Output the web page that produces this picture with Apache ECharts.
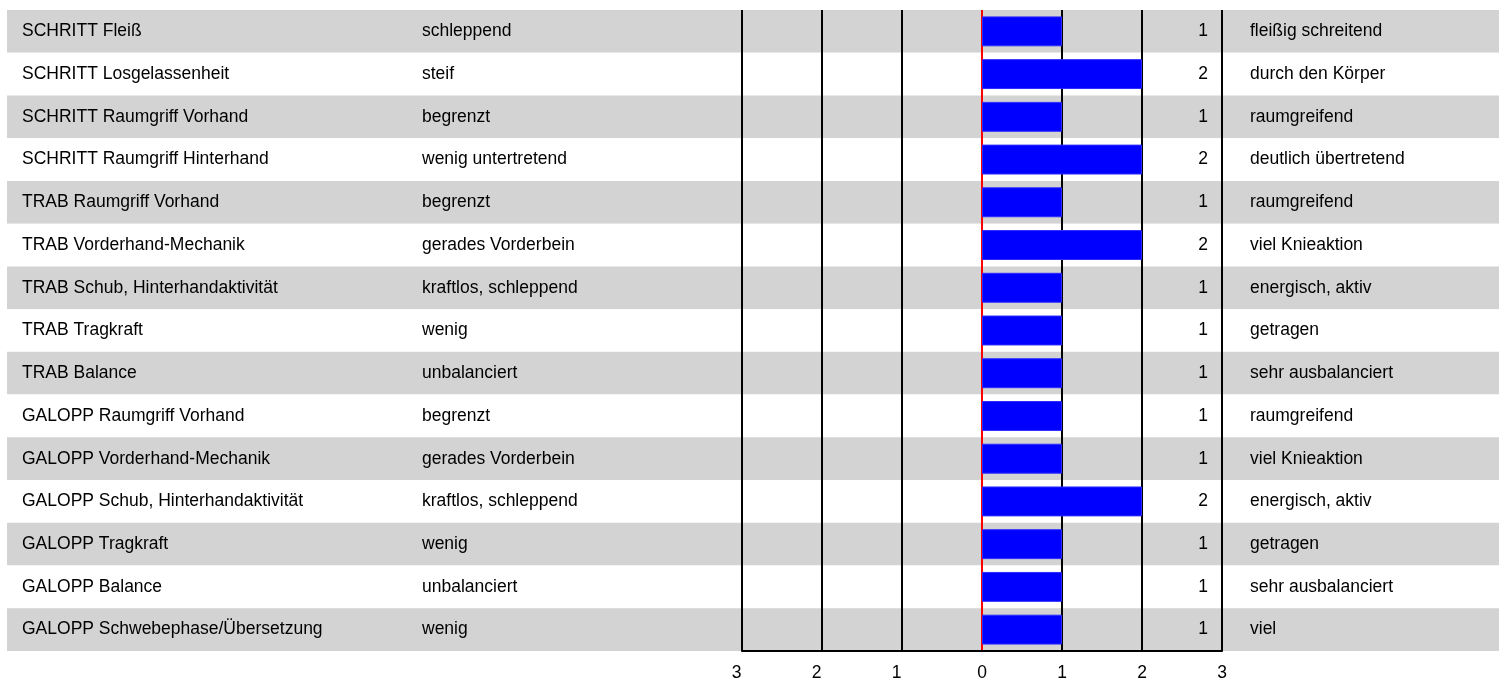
<!DOCTYPE html>
<html>
<head>
<meta charset="utf-8">
<script src="https://cdn.jsdelivr.net/npm/echarts@6/dist/echarts.min.js"></script>
<style>
  html, body { margin: 0; padding: 0; background: #fff; }
  #main { width: 1499px; height: 682px; }
</style>
</head>
<body>
<div id="main"></div>
<script>
// Zeilen der Bewertung
var labels = [
  'SCHRITT Fleiß',
  'SCHRITT Losgelassenheit',
  'SCHRITT Raumgriff Vorhand',
  'SCHRITT Raumgriff Hinterhand',
  'TRAB Raumgriff Vorhand',
  'TRAB Vorderhand-Mechanik',
  'TRAB Schub, Hinterhandaktivität',
  'TRAB Tragkraft',
  'TRAB Balance',
  'GALOPP Raumgriff Vorhand',
  'GALOPP Vorderhand-Mechanik',
  'GALOPP Schub, Hinterhandaktivität',
  'GALOPP Tragkraft',
  'GALOPP Balance',
  'GALOPP Schwebephase/Übersetzung'
];
var leftDesc = [
  'schleppend', 'steif', 'begrenzt', 'wenig untertretend', 'begrenzt',
  'gerades Vorderbein', 'kraftlos, schleppend', 'wenig', 'unbalanciert', 'begrenzt',
  'gerades Vorderbein', 'kraftlos, schleppend', 'wenig', 'unbalanciert', 'wenig'
];
var rightDesc = [
  'fleißig schreitend', 'durch den Körper', 'raumgreifend', 'deutlich übertretend', 'raumgreifend',
  'viel Knieaktion', 'energisch, aktiv', 'getragen', 'sehr ausbalanciert', 'raumgreifend',
  'viel Knieaktion', 'energisch, aktiv', 'getragen', 'sehr ausbalanciert', 'viel'
];
var values = [1, 2, 1, 2, 1, 2, 1, 1, 1, 1, 1, 2, 1, 1, 1];
var scaleMin = -3, scaleMax = 3;

var font = "'Liberation Sans', Arial, sans-serif";
var fs = 17.5;

var chart = echarts.init(document.getElementById('main'));

function textAxis(data, pos, offset, inside, margin) {
  return {
    type: 'category', gridIndex: 1, inverse: true, data: labels,
    position: pos, offset: offset,
    axisLine: { show: false }, axisTick: { show: false },
    splitLine: { show: false },
    axisLabel: {
      inside: inside, margin: margin, color: '#000',
      fontFamily: font, fontSize: fs,
      formatter: function (v, i) { return data[i]; }
    }
  };
}

var option = {
  backgroundColor: '#fff',
  animation: false,
  grid: [
    { left: 7, right: 0, top: 10, bottom: 31 },
    { left: 742, right: 277, top: 10, bottom: 31 }
  ],
  xAxis: [
    { gridIndex: 0, type: 'value', min: 0, max: 1, show: false },
    {
      gridIndex: 1, type: 'value', min: scaleMin, max: scaleMax, interval: 1,
      axisLine: { show: true, onZero: false, lineStyle: { color: '#000', width: 2 } },
      axisTick: { show: false },
      splitLine: {
        show: true,
        lineStyle: { color: ['#000', '#000', '#000', '#f00', '#000', '#000', '#000'], width: 2 }
      },
      axisLabel: {
        margin: 13, color: '#000', fontFamily: font, fontSize: fs,
        formatter: function (v) {
          return v < 0 ? '{n|' + Math.abs(v) + '}' : String(v);
        },
        rich: { n: { fontFamily: font, fontSize: fs, color: '#000', padding: [0, 11, 0, 0] } }
      }
    }
  ],
  yAxis: [
    {
      type: 'category', gridIndex: 0, inverse: true, data: labels,
      axisLine: { show: false }, axisTick: { show: false }, axisLabel: { show: false },
      splitArea: { show: true, areaStyle: { color: ['#d3d3d3', '#ffffff'] } }
    },
    {
      type: 'category', gridIndex: 1, inverse: true, data: labels,
      axisLine: { show: false }, axisTick: { show: false }, axisLabel: { show: false }
    },
    textAxis(labels, 'left', 720, true, 0),
    textAxis(leftDesc, 'left', 320, true, 0),
    textAxis(values.map(String), 'right', 0, true, 14),
    textAxis(rightDesc, 'right', 28, false, 0)
  ],
  series: [{
    type: 'bar',
    xAxisIndex: 1, yAxisIndex: 1,
    data: values,
    barWidth: '70%',
    itemStyle: { color: '#0000ff', borderColor: '#2b2bff', borderWidth: 1 }
  }]
};

chart.setOption(option);
</script>
</body>
</html>
